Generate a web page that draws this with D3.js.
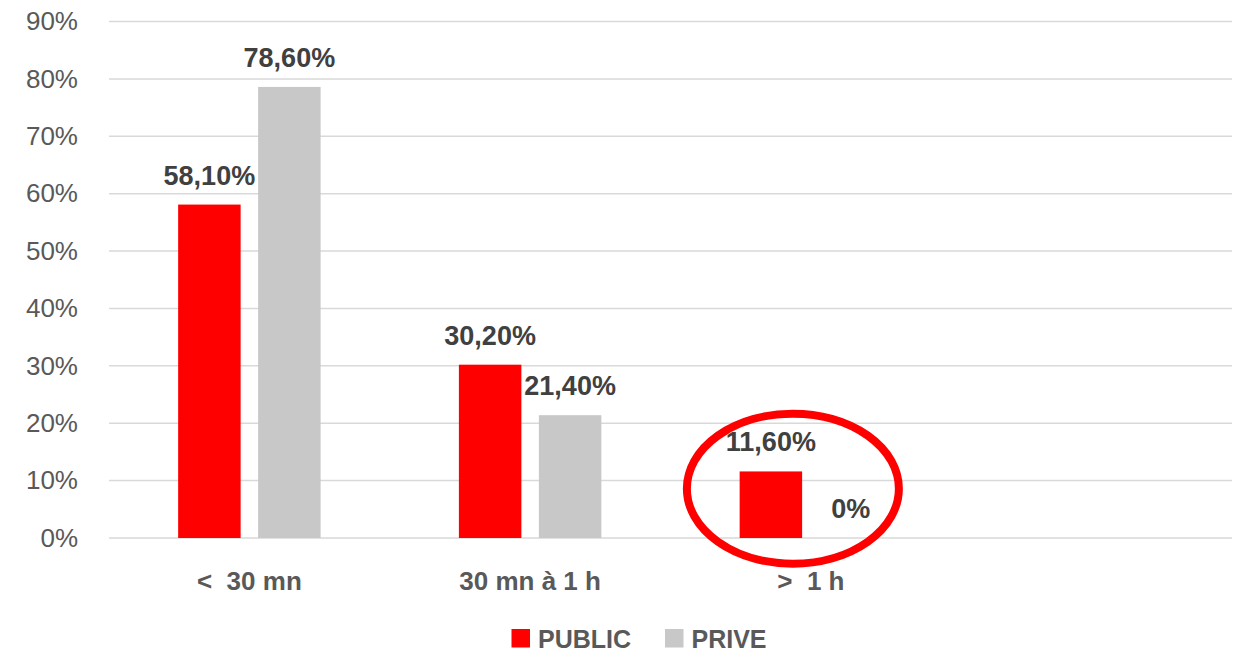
<!DOCTYPE html>
<html>
<head>
<meta charset="utf-8">
<script src="https://cdn.jsdelivr.net/npm/d3@7"></script>
<style>
  html, body { margin: 0; padding: 0; background: #fff; }
  svg { display: block; font-family: "Liberation Sans", Arial, sans-serif; }
  .pre { white-space: pre; }
</style>
</head>
<body>
<svg id="chart" width="1240" height="655"></svg>
<script>
// ---- data ----
const categories = ["<  30 mn", "30 mn à 1 h", ">  1 h", ""];
const seriesNames = ["PUBLIC", "PRIVE"];
const publicValues = [58.1, 30.2, 11.6, null];
const priveValues = [78.6, 21.4, 0, null];
const yTicks = [0, 10, 20, 30, 40, 50, 60, 70, 80, 90];
const seriesColors = ["#FF0000", "#C8C8C8"];

const svg = d3.select("#chart");
const plot = { left: 109, right: 1232, top: 21.5, bottom: 538 };

const x = d3.scaleBand().domain(categories).range([plot.left, plot.right]).padding(0);
const x1 = d3.scaleBand().domain(seriesNames).range([0, x.bandwidth()])
  .paddingInner(0.21875).paddingOuter(0.8644);
const y = d3.scaleLinear().domain([0, 90]).range([plot.bottom, plot.top]);

// gridlines
svg.append("g").selectAll("line").data(yTicks).join("line")
  .attr("x1", plot.left).attr("x2", plot.right)
  .attr("y1", d => y(d)).attr("y2", d => y(d))
  .attr("stroke", "#D9D9D9").attr("stroke-width", 1.5);

// y axis labels
const yAxis = d3.axisLeft(y).tickValues(yTicks).tickFormat(d => d + "%").tickSize(0).tickPadding(0);
const ga = svg.append("g").attr("transform", `translate(${plot.left - 31},0)`).call(yAxis);
ga.select(".domain").remove();
ga.selectAll("text").attr("font-size", 26).attr("fill", "#595959")
  .attr("font-family", "Liberation Sans, Arial, sans-serif");

// x axis labels
const xAxis = d3.axisBottom(x).tickSize(0).tickPadding(0);
const gx = svg.append("g").attr("transform", `translate(0,${plot.bottom})`).call(xAxis);
gx.select(".domain").remove();
gx.selectAll("text").attr("class", "pre").attr("font-size", 26).attr("font-weight", "bold")
  .attr("fill", "#595959").attr("dy", null).attr("y", 52)
  .attr("font-family", "Liberation Sans, Arial, sans-serif");

// bars
const rows = categories.map((c, i) => ({ cat: c, vals: [publicValues[i], priveValues[i]] }));
const fmt = v => v === 0 ? "0%" : v.toFixed(2).replace(".", ",") + "%";

const groups = svg.append("g").selectAll("g").data(rows).join("g")
  .attr("transform", d => `translate(${x(d.cat)},0)`);

groups.selectAll("rect")
  .data(d => d.vals.map((v, j) => ({ s: seriesNames[j], v, j })).filter(e => e.v !== null))
  .join("rect")
  .attr("x", e => x1(e.s)).attr("width", x1.bandwidth())
  .attr("y", e => y(e.v)).attr("height", e => y(0) - y(e.v))
  .attr("fill", e => seriesColors[e.j]);

groups.selectAll("text.lbl")
  .data(d => d.vals.map((v, j) => ({ s: seriesNames[j], v, j })).filter(e => e.v !== null))
  .join("text").attr("class", "lbl")
  .attr("x", e => x1(e.s) + x1.bandwidth() / 2)
  .attr("y", e => y(e.v) - 20)
  .attr("text-anchor", "middle")
  .attr("font-size", 27).attr("font-weight", "bold").attr("fill", "#404040")
  .text(e => fmt(e.v));

// annotation ellipse around "> 1 h"
const c3 = x(categories[2]) + x.bandwidth() / 2;
svg.append("ellipse")
  .attr("cx", c3 - 18).attr("cy", y(8.6))
  .attr("rx", 106).attr("ry", 75)
  .attr("fill", "none").attr("stroke", "#FF0000").attr("stroke-width", 8);

// legend
const legendX = [511.5, 665];
const leg = svg.append("g").selectAll("g").data(seriesNames).join("g")
  .attr("transform", (d, i) => `translate(${legendX[i]},629)`);
leg.append("rect").attr("width", 18.5).attr("height", 18.5)
  .attr("fill", (d, i) => seriesColors[i]);
leg.append("text").attr("x", 26.5).attr("y", 18.5)
  .attr("font-size", 25).attr("font-weight", "bold").attr("fill", "#595959")
  .text(d => d);
</script>
</body>
</html>
